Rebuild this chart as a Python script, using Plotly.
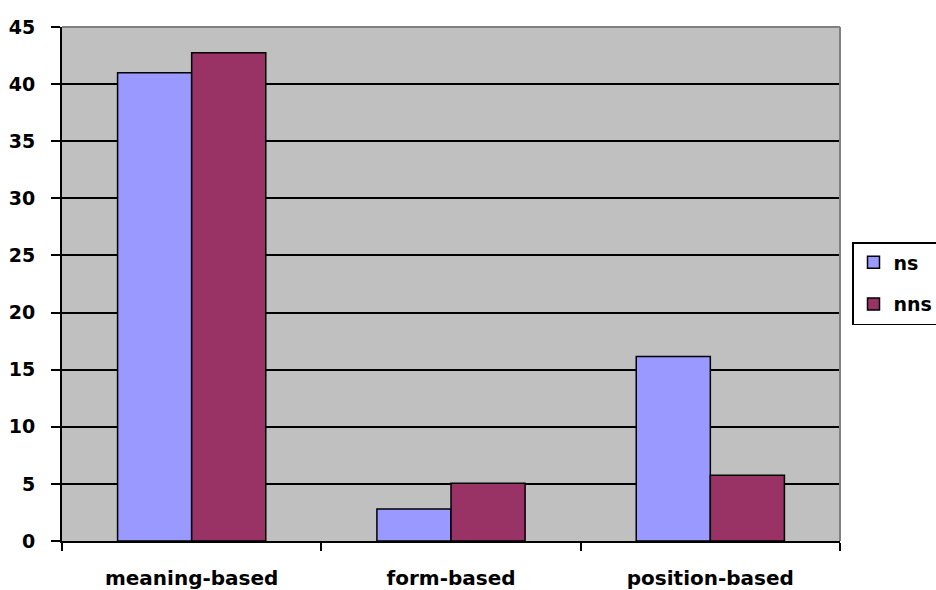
import plotly.graph_objects as go

categories = ["meaning-based", "form-based", "position-based"]
ns_values = [41.0, 2.8, 16.15]
nns_values = [42.75, 5.05, 5.75]
y_ticks = [0, 5, 10, 15, 20, 25, 30, 35, 40, 45]

FONT = "DejaVu Sans"
W, H = 936, 590
ML, MR, MT, MB = 62, 96, 27, 49

fig = go.Figure()
fig.add_trace(go.Bar(
    name="ns", x=categories, y=ns_values, legendgroup="ns",
    marker=dict(color="#9999FF", line=dict(color="black", width=1.5)),
))
fig.add_trace(go.Bar(
    name="nns", x=categories, y=nns_values, legendgroup="nns",
    marker=dict(color="#993366", line=dict(color="black", width=1.5)),
))

# grey frame on the top and right edges of the plot area
fig.add_shape(type="line", xref="paper", yref="paper", x0=0, x1=1, y0=1, y1=1,
              line=dict(color="#808080", width=2), layer="above")
fig.add_shape(type="line", xref="paper", yref="paper", x0=1, x1=1, y0=0, y1=1,
              line=dict(color="#808080", width=2), layer="above")

fig.update_layout(
    width=W, height=H,
    margin=dict(l=ML, r=MR, t=MT, b=MB, pad=0, autoexpand=False),
    paper_bgcolor="white",
    plot_bgcolor="#C0C0C0",
    barmode="group",
    bargap=0.4286,
    bargroupgap=0,
    font=dict(family=FONT, size=19, color="black"),
    showlegend=True,
    legend=dict(
        xref="container", yref="container",
        x=852 / W, xanchor="left",
        y=1 - 242 / H, yanchor="top",
        bordercolor="black", borderwidth=1.5,
        bgcolor="white",
        font=dict(family=FONT, size=19, color="black", weight="bold"),
        tracegroupgap=14,
        itemwidth=30,
    ),
    xaxis=dict(
        type="category",
        showgrid=False,
        showline=True, linecolor="black", linewidth=2,
        ticks="outside", tickson="boundaries", ticklen=8, tickcolor="black", tickwidth=1.5,
        tickfont=dict(family=FONT, size=20, color="black", weight="bold"),
        ticklabelstandoff=18,
    ),
    yaxis=dict(
        range=[0, 45],
        tickvals=y_ticks,
        showgrid=True, gridcolor="black", gridwidth=1.5,
        zeroline=False,
        showline=True, linecolor="black", linewidth=2,
        ticks="outside", ticklen=9, tickcolor="black", tickwidth=1.5,
        tickfont=dict(family=FONT, size=19, color="black", weight="bold"),
        ticklabelstandoff=12,
    ),
)

fig.write_html("out.html")
